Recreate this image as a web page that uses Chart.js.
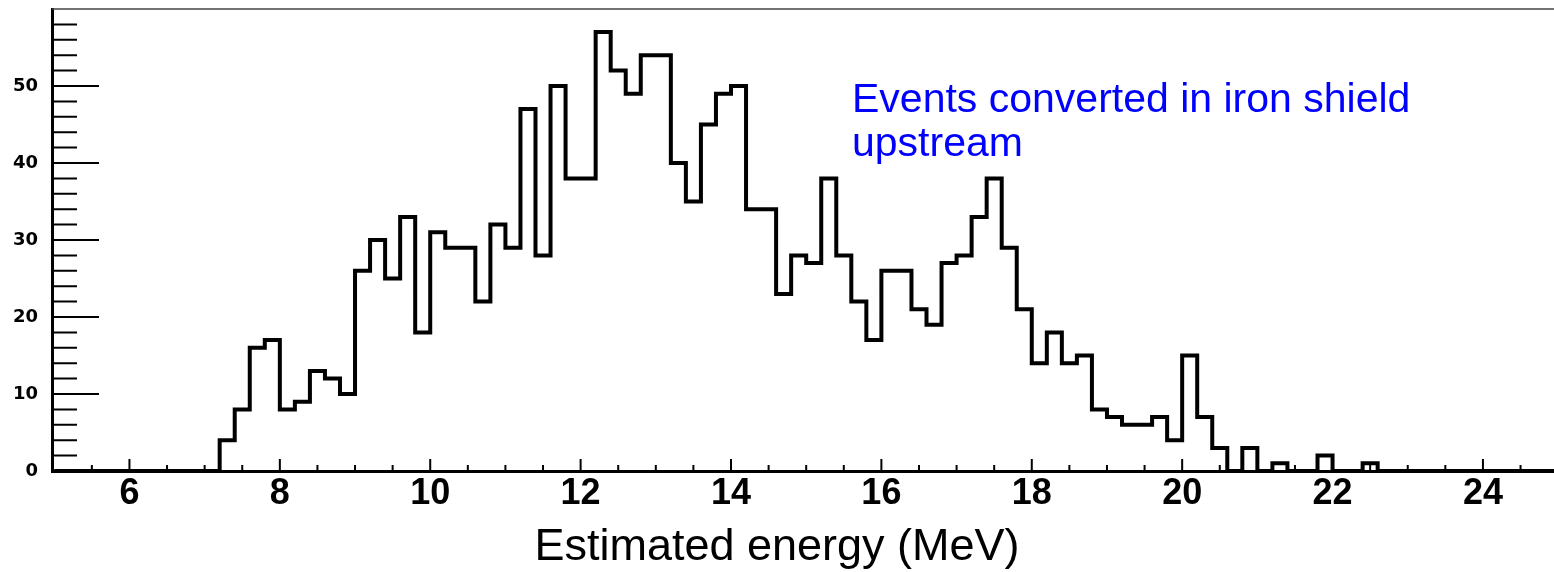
<!DOCTYPE html>
<html>
<head>
<meta charset="utf-8">
<script src="https://cdn.jsdelivr.net/npm/chart.js@4.4.1/dist/chart.umd.min.js"></script>
<style>
    html, body { margin: 0; padding: 0; background: #fff; }
    #wrap { position: relative; width: 1554px; height: 572px; }
</style>
</head>
<body>
<div id="wrap"><canvas id="energyChart"></canvas></div>
<script>
// Histogram: 100 bins of 0.2 MeV from 5.0 MeV
const binStart = 5.0;
const binWidth = 0.2;
const counts = [
    0, 0, 0, 0, 0, 0, 0, 0, 0, 0,        // 5.0 - 6.8
    0, 4, 8, 16, 17, 8, 9, 13, 12, 10,   // 7.0 - 8.8
    26, 30, 25, 33, 18, 31, 29, 29, 22, 32, // 9.0 - 10.8
    29, 47, 28, 50, 38, 38, 57, 52, 49, 54, // 11.0 - 12.8
    54, 40, 35, 45, 49, 50, 34, 34, 23, 28, // 13.0 - 14.8
    27, 38, 28, 22, 17, 26, 26, 21, 19, 27, // 15.0 - 16.8
    28, 33, 38, 29, 21, 14, 18, 14, 15, 8,  // 17.0 - 18.8
    7, 6, 6, 7, 4, 15, 7, 3, 0, 3,          // 19.0 - 20.8
    0, 1, 0, 0, 2, 0, 0, 1, 0, 0,           // 21.0 - 22.8
    0, 0, 0, 0, 0, 0, 0, 0, 0, 0            // 23.0 - 24.8
];
const xTickLabels = [6, 8, 10, 12, 14, 16, 18, 20, 22, 24];
const yTickLabels = [0, 10, 20, 30, 40, 50];
const axisTitle = 'Estimated energy (MeV)';
const noteLines = ['Events converted in iron shield', 'upstream'];

// step points at the lower bin edges, plus the closing upper edge
const histPoints = counts.map((c, i) => ({ x: binStart + i * binWidth, y: c }));
histPoints.push({ x: binStart + counts.length * binWidth, y: counts[counts.length - 1] });

// minor tick positions (ROOT style)
const xMinor = [];
for (let v = 5.5; v < 25; v += 0.5) {
    if (!xTickLabels.includes(v)) xMinor.push(v);
}
const yMinor = [];
for (let v = 2; v < 60; v += 2) {
    if (v % 10 !== 0) yMinor.push(v);
}

// frame, inner tick marks and free text
const rootFrame = {
    id: 'rootFrame',
    beforeDatasetsDraw(chart) {
        const { ctx, chartArea: a, scales: { x, y } } = chart;
        ctx.save();
        ctx.strokeStyle = '#444';
        ctx.lineWidth = 1.5;
        ctx.beginPath();
        ctx.moveTo(a.left, a.top);
        ctx.lineTo(a.right, a.top);
        ctx.stroke();

        ctx.strokeStyle = '#000';
        ctx.lineWidth = 2;
        ctx.beginPath();
        xTickLabels.forEach(v => {
            const px = x.getPixelForValue(v);
            ctx.moveTo(px, a.bottom);
            ctx.lineTo(px, a.bottom - 12);
        });
        xMinor.forEach(v => {
            const px = x.getPixelForValue(v);
            ctx.moveTo(px, a.bottom);
            ctx.lineTo(px, a.bottom - 6);
        });
        yTickLabels.forEach(v => {
            const py = y.getPixelForValue(v);
            ctx.moveTo(a.left, py);
            ctx.lineTo(a.left + 47, py);
        });
        yMinor.forEach(v => {
            const py = y.getPixelForValue(v);
            ctx.moveTo(a.left, py);
            ctx.lineTo(a.left + 25, py);
        });
        ctx.stroke();
        ctx.restore();
    },
    afterDraw(chart) {
        const { ctx } = chart;
        ctx.save();
        ctx.fillStyle = '#000';
        ctx.font = '45px "Liberation Sans", Arial, sans-serif';
        ctx.textAlign = 'center';
        ctx.textBaseline = 'alphabetic';
        ctx.fillText(axisTitle, 777, 560);

        ctx.fillStyle = '#0000ff';
        ctx.font = '41px "Liberation Sans", Arial, sans-serif';
        ctx.textAlign = 'left';
        ctx.fillText(noteLines[0], 852, 112);
        ctx.fillText(noteLines[1], 852, 156);
        ctx.restore();
    }
};

const ctx = document.getElementById('energyChart').getContext('2d');
const energyChart = new Chart(ctx, {
    type: 'line',
    data: {
        datasets: [{
            label: 'Events',
            data: histPoints,
            stepped: true,
            borderColor: '#000',
            borderWidth: 4,
            pointRadius: 0,
            fill: false,
            clip: false
        }]
    },
    options: {
        responsive: true,
        maintainAspectRatio: false,
        animation: false,
        layout: {
            padding: { top: 9, right: 0, bottom: 0, left: 0 }
        },
        plugins: {
            legend: { display: false },
            tooltip: { enabled: false }
        },
        scales: {
            x: {
                type: 'linear',
                min: 4.97,
                max: 24.945,
                afterFit: scale => {
                    scale.height = 101;
                    scale.paddingLeft = 0;
                    scale.paddingRight = 0;
                },
                afterBuildTicks: scale => {
                    scale.ticks = xTickLabels.map(v => ({ value: v }));
                },
                grid: { display: false, drawTicks: false },
                border: { display: true, color: '#000', width: 3 },
                ticks: {
                    autoSkip: false,
                    maxRotation: 0,
                    padding: 1,
                    color: '#000',
                    font: { family: 'Liberation Sans', weight: 'bold', size: 36 }
                }
            },
            y: {
                min: 0,
                max: 60,
                afterFit: scale => {
                    scale.width = 52;
                    scale.paddingTop = 0;
                    scale.paddingBottom = 0;
                },
                afterBuildTicks: scale => {
                    scale.ticks = yTickLabels.map(v => ({ value: v }));
                },
                grid: { display: false, drawTicks: false },
                border: { display: true, color: '#000', width: 3 },
                ticks: {
                    padding: 14,
                    color: '#000',
                    font: { family: 'DejaVu Sans', weight: 'bold', size: 18 }
                }
            }
        }
    },
    plugins: [rootFrame]
});
</script>
</body>
</html>
